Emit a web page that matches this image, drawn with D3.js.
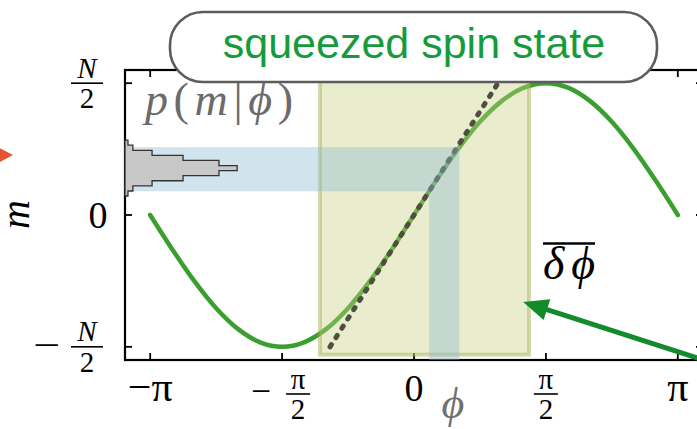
<!DOCTYPE html>
<html><head><meta charset="utf-8">
<script src="https://cdn.jsdelivr.net/npm/d3@7"></script>
<style>
html,body{margin:0;padding:0;background:#fff;overflow:hidden}
svg{display:block}
</style></head><body>
<svg id="chart" width="697" height="429"></svg>
<script>
// Response of the spin ensemble, m (in units of N/2) versus phase φ, sampled every π/12
const curvePhi = [-3.142, -2.880, -2.618, -2.356, -2.094, -1.833, -1.571, -1.309, -1.047, -0.785, -0.524, -0.262,
                  0.000, 0.262, 0.524, 0.785, 1.047, 1.309, 1.571, 1.833, 2.094, 2.356, 2.618, 2.880, 3.142];
const curveM   = [0.000, -0.259, -0.500, -0.707, -0.866, -0.966, -1.000, -0.966, -0.866, -0.707, -0.500, -0.259,
                  0.000, 0.259, 0.500, 0.707, 0.866, 0.966, 1.000, 0.966, 0.866, 0.707, 0.500, 0.259, 0.000];
// Linear approximation around φ = 0
const tangentPhi = [-1.0, 1.0];
const tangentM   = [-1.0, 1.0];
// Phase window of the squeezed state
const windowPhi = [-1.12, 1.37];
const windowM   = [-1.06, 1.10];
// Measured band in m and the phase band it maps back to
const bandM   = [0.18, 0.515];
const bandPhi = [0.18, 0.54];
// Histogram p(m|φ): bin edges in m and bin probabilities
const histEdges = [0.144, 0.182, 0.221, 0.260, 0.298, 0.337, 0.375, 0.414, 0.453, 0.491, 0.530, 0.568];
const histP     = [0.006, 0.016, 0.055, 0.118, 0.191, 0.228, 0.191, 0.118, 0.055, 0.016, 0.006];
// Axis ticks
const xTicks = [-Math.PI, -Math.PI / 2, 0, Math.PI / 2, Math.PI];
const xTickLabels = ["−π", "−π/2", "0", "π/2", "π"];
const yTicks = [-1, 0, 1];
const yTickLabels = ["−N/2", "0", "N/2"];
// Arrow pointing at the phase window (tail, head)
const arrowPhi = [3.55, 1.30];
const arrowM   = [-1.12, -0.66];

const svg = d3.select("#chart");
const serif = "'Liberation Serif', 'DejaVu Serif', serif";

const x = d3.scaleLinear().domain([-Math.PI - 0.3, Math.PI + 0.3]).range([125, 703]);
const y = d3.scaleLinear().domain([-1.1, 1.1]).range([360, 70]);
const pScale = d3.scaleLinear().domain([0, 0.25]).range([x.range()[0], x.range()[0] + 123]);

const [X0, X1] = x.range();
const [Y0, Y1] = y.range();

// frame
svg.append("rect").attr("x", X0).attr("y", Y1).attr("width", X1 - X0).attr("height", Y0 - Y1)
  .attr("fill", "none").attr("stroke", "#000").attr("stroke-width", 2.2);

const tk = 7;
const ticks = svg.append("g").attr("stroke", "#000").attr("stroke-width", 1.8);
xTicks.forEach(t => {
  ticks.append("line").attr("x1", x(t)).attr("x2", x(t)).attr("y1", Y0).attr("y2", Y0 - tk);
  ticks.append("line").attr("x1", x(t)).attr("x2", x(t)).attr("y1", Y1).attr("y2", Y1 + tk);
});
yTicks.forEach(t => {
  ticks.append("line").attr("x1", X0).attr("x2", X0 + tk).attr("y1", y(t)).attr("y2", y(t));
  ticks.append("line").attr("x1", X1 - tk).attr("x2", X1).attr("y1", y(t)).attr("y2", y(t));
});

// response curve
const curveData = curvePhi.map((p, i) => [p, curveM[i]]);
svg.append("path").datum(curveData)
  .attr("d", d3.line().x(d => x(d[0])).y(d => y(d[1])).curve(d3.curveCatmullRom))
  .attr("fill", "none").attr("stroke", "#3a9f2f").attr("stroke-width", 4.5).attr("stroke-linecap", "round");

// phase window
svg.append("rect")
  .attr("x", x(windowPhi[0])).attr("y", y(windowM[1]))
  .attr("width", x(windowPhi[1]) - x(windowPhi[0])).attr("height", y(windowM[0]) - y(windowM[1]))
  .attr("fill", "rgba(200,210,130,0.4)").attr("stroke", "rgba(160,172,80,0.45)").attr("stroke-width", 4);

// tangent
svg.append("path").datum(tangentPhi.map((p, i) => [p, tangentM[i]]))
  .attr("d", d3.line().x(d => x(d[0])).y(d => y(d[1])))
  .attr("fill", "none").attr("stroke", "#4f4f40").attr("stroke-width", 5)
  .attr("stroke-linecap", "round").attr("stroke-dasharray", "2.5,8.5");

// measured band (horizontal) and its phase image (vertical)
const bandFill = "rgba(140,185,210,0.4)";
svg.append("rect").attr("x", X0).attr("y", y(bandM[1]))
  .attr("width", x(bandPhi[1]) - X0).attr("height", y(bandM[0]) - y(bandM[1])).attr("fill", bandFill);
svg.append("rect").attr("x", x(bandPhi[0])).attr("y", y(bandM[0]))
  .attr("width", x(bandPhi[1]) - x(bandPhi[0])).attr("height", Y0 - y(bandM[0])).attr("fill", bandFill);

// histogram p(m|φ)
const hp = [[pScale(0), y(histEdges[0])]];
histP.forEach((p, i) => {
  hp.push([pScale(p), y(histEdges[i])]);
  hp.push([pScale(p), y(histEdges[i + 1])]);
});
hp.push([pScale(0), y(histEdges[histEdges.length - 1])]);
svg.append("path").attr("d", d3.line()(hp) + "Z")
  .attr("fill", "#c8c8c8").attr("stroke", "#333").attr("stroke-width", 1.3);

// arrow
{
  const tail = [x(arrowPhi[0]), y(arrowM[0])], tip = [x(arrowPhi[1]), y(arrowM[1])];
  const dx = tip[0] - tail[0], dy = tip[1] - tail[1], L = Math.hypot(dx, dy);
  const ux = dx / L, uy = dy / L, hl = 25, hw = 11;
  const base = [tip[0] - ux * hl, tip[1] - uy * hl];
  svg.append("line").attr("x1", tail[0]).attr("y1", tail[1])
    .attr("x2", tip[0] - ux * (hl - 4)).attr("y2", tip[1] - uy * (hl - 4))
    .attr("stroke", "#138a2b").attr("stroke-width", 5);
  svg.append("path").attr("d", d3.line()([tip, [base[0] - uy * hw, base[1] + ux * hw], [base[0] + uy * hw, base[1] - ux * hw]]) + "Z")
    .attr("fill", "#138a2b");
}

// orange marker at the left edge
svg.append("path").attr("d", d3.line()([[-4, y(0.455) - 9], [13, y(0.455)], [-4, y(0.455) + 9]]) + "Z")
  .attr("fill", "#e4572e");

// tick labels
function fraction(g, cx, barY, num, den, size, barW) {
  g.append("text").attr("x", cx).attr("y", barY - 5.5).attr("text-anchor", "middle")
    .attr("font-family", serif).attr("font-size", size)
    .attr("font-style", num === "N" ? "italic" : "normal").text(num);
  g.append("line").attr("x1", cx - barW / 2).attr("x2", cx + barW / 2).attr("y1", barY).attr("y2", barY)
    .attr("stroke", "#000").attr("stroke-width", 1.6);
  g.append("text").attr("x", cx).attr("y", barY + 25).attr("text-anchor", "middle")
    .attr("font-family", serif).attr("font-size", size).text(den);
}
function minus(g, cx, midY, w) {
  g.append("text").attr("x", cx - w / 2).attr("y", midY + 10).attr("font-family", serif)
    .attr("font-size", 36).attr("textLength", w).attr("lengthAdjust", "spacingAndGlyphs").text("−");
}
const labels = svg.append("g").attr("fill", "#000");
xTicks.forEach((t, i) => {
  const s = xTickLabels[i], cx = x(t);
  if (s.includes("/")) {
    const neg = s.startsWith("−");
    const [n, d] = s.replace("−", "").split("/");
    const fc = neg ? cx + 16 : cx;
    fraction(labels, fc, 394, n, d, 29, 24);
    if (neg) minus(labels, cx - 21, 393, 20);
  } else {
    labels.append("text").attr("x", cx).attr("y", 401).attr("text-anchor", "middle")
      .attr("font-family", serif).attr("font-size", s === "0" ? 38 : 42).text(s);
  }
});
yTicks.forEach((t, i) => {
  const s = yTickLabels[i], cy = y(t);
  if (s.includes("/")) {
    const neg = s.startsWith("−");
    const [n, d] = s.replace("−", "").split("/");
    fraction(labels, 87, cy, n, d, 29, 32);
    if (neg) minus(labels, 46.5, cy, 27);
  } else {
    labels.append("text").attr("x", 98).attr("y", cy + 13).attr("text-anchor", "middle")
      .attr("font-family", serif).attr("font-size", 38).text(s);
  }
});

// axis titles
svg.append("text").attr("x", 453).attr("y", 418).attr("text-anchor", "middle")
  .attr("font-family", serif).attr("font-style", "italic").attr("font-size", 44).attr("fill", "#707070").text("ϕ");
svg.append("text").attr("transform", "translate(29,214.5) rotate(-90)").attr("text-anchor", "middle")
  .attr("font-family", serif).attr("font-style", "italic").attr("font-size", 40).attr("fill", "#000").text("m");

// p(m|ϕ) annotation
{
  const t = svg.append("text").attr("x", 145).attr("y", 115).attr("font-family", serif)
    .attr("font-size", 46).attr("fill", "#6b6b6b").attr("textLength", 148).attr("lengthAdjust", "spacing");
  [["p", 1], ["(", 0], ["m", 1], ["|", 0], ["ϕ", 1], [")", 0]].forEach(([c, it]) =>
    t.append("tspan").attr("font-style", it ? "italic" : "normal").text(c));
}

// resolution annotation with overbar
svg.append("text").attr("x", 543).attr("y", 279).attr("font-family", serif).attr("font-style", "italic")
  .attr("font-size", 46).attr("textLength", 52).attr("lengthAdjust", "spacing").text("δϕ");
svg.append("line").attr("x1", 543).attr("x2", 595).attr("y1", 243.5).attr("y2", 243.5)
  .attr("stroke", "#000").attr("stroke-width", 2.6);

// title box
svg.append("rect").attr("x", 170).attr("y", 12).attr("width", 487).attr("height", 70).attr("rx", 33)
  .attr("fill", "#fff").attr("stroke", "#5c5c5c").attr("stroke-width", 2.6);
svg.append("text").attr("x", 414).attr("y", 58).attr("text-anchor", "middle")
  .attr("font-family", "'Liberation Sans', Arial, sans-serif").attr("font-size", 43).attr("fill", "#149b3c")
  .text("squeezed spin state");
</script>
</body></html>
